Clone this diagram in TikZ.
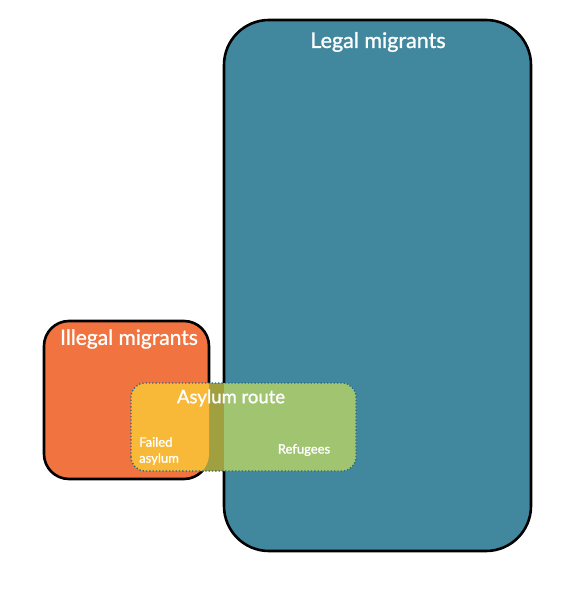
\documentclass[tikz,border=0pt]{standalone}
\usepackage{fontspec}
\setmainfont{Lato}[FakeBold=1.2]
\definecolor{tealbox}{HTML}{41889F}
\definecolor{orangebox}{HTML}{F07340}
\definecolor{yellowpart}{HTML}{F9B938}
\definecolor{olivepart}{HTML}{A0A040}
\definecolor{greenpart}{HTML}{A0C470}
\definecolor{dotblue}{HTML}{1E6A8A}
\begin{document}
\begin{tikzpicture}[x=1pt,y=-1pt,
  bigbox/.style={draw=black,line width=2.6pt,outer sep=0pt,inner sep=0pt},
  lbl/.style={text=white,inner sep=0pt}]
\useasboundingbox (0,0) rectangle (566,594);
\node[bigbox,fill=tealbox,rounded corners=45pt,minimum width=307pt,minimum height=531pt] (legal) at (377.5,285.5) {};
\node[bigbox,fill=orangebox,rounded corners=25pt,minimum width=165pt,minimum height=158pt] (illegal) at (126.5,400) {};
\node[outer sep=0pt,inner sep=0pt,minimum width=225pt,minimum height=88pt] (asylum) at (243.5,427) {};
\fill[olivepart,rounded corners=14pt] (asylum.south west) rectangle (asylum.north east);
\begin{scope}
  \clip[rounded corners=25pt] (illegal.south west) rectangle (illegal.north east);
  \fill[yellowpart,rounded corners=14pt] (asylum.south west) rectangle (asylum.north east);
\end{scope}
\begin{scope}
  \clip[rounded corners=45pt] (legal.south west) rectangle (legal.north east);
  \fill[greenpart,rounded corners=14pt] (asylum.south west) rectangle (asylum.north east);
\end{scope}
\draw[dotblue,line width=1.3pt,dotted,rounded corners=14pt] (asylum.south west) rectangle (asylum.north east);
\node[lbl,font=\fontsize{21.5}{24}\selectfont] (legaltxt) at (378,42) {Legal migrants};
\node[lbl,font=\fontsize{21}{24}\selectfont] (illegaltxt) at (129,339) {Illegal migrants};
\node[lbl,font=\fontsize{18.5}{22}\selectfont] (asylumtxt) at (231,398) {Asylum route};
\node[lbl,font=\fontsize{13}{16}\selectfont,align=left,anchor=west] (failedtxt) at (139,451) {Failed\\asylum};
\node[lbl,font=\fontsize{13}{16}\selectfont] (refugeestxt) at (304,450) {Refugees};
\end{tikzpicture}
\end{document}
